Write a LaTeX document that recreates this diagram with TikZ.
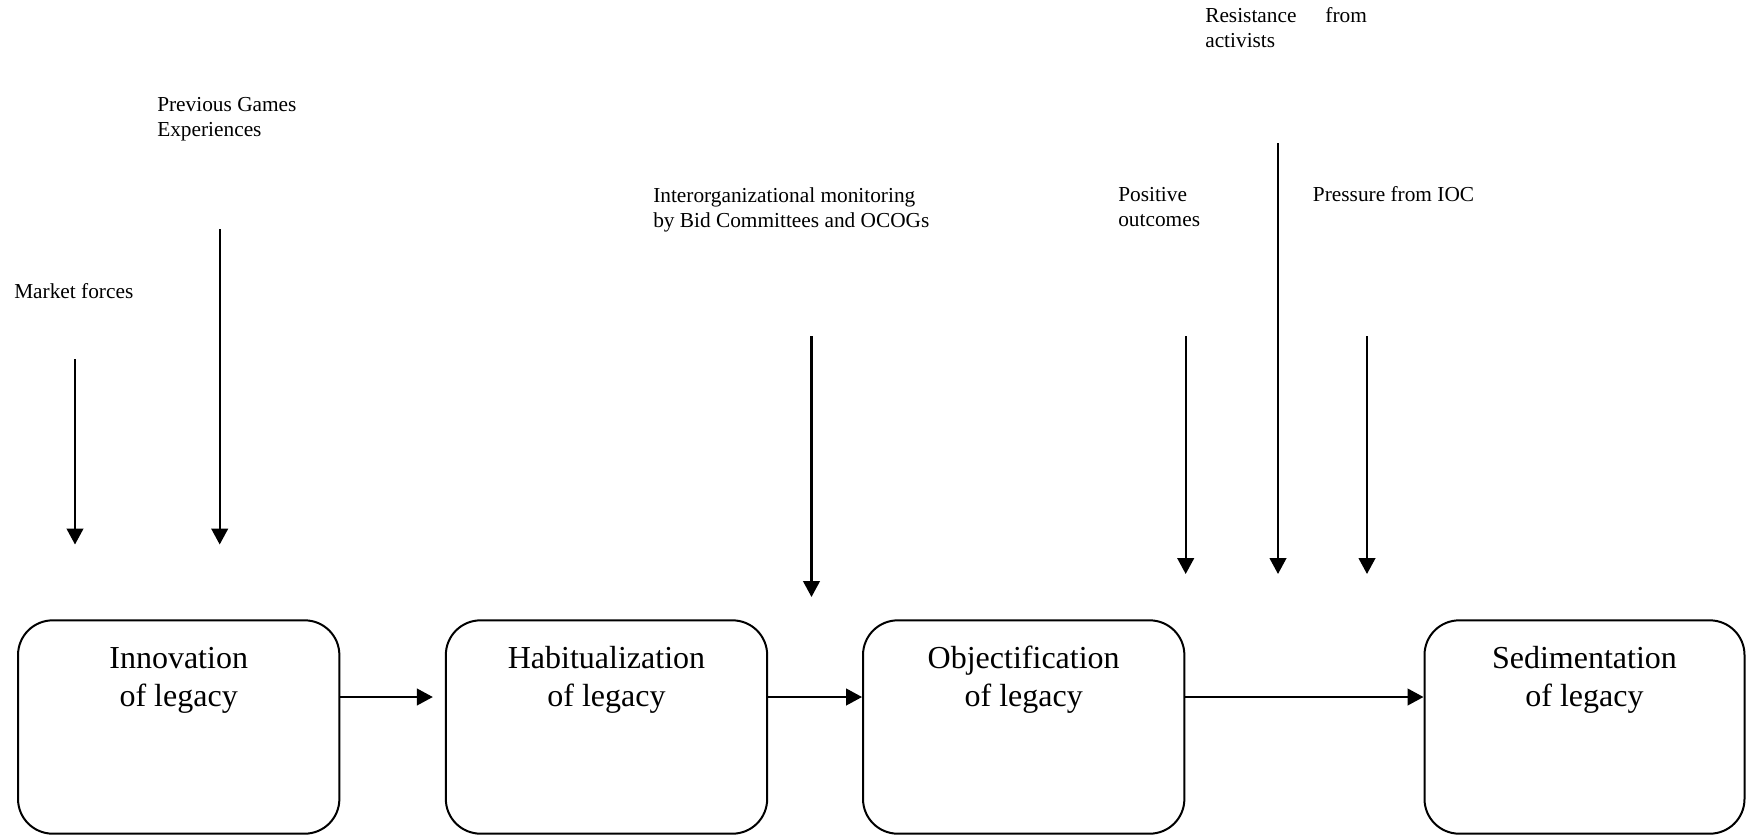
\documentclass[tikz,border=0pt]{standalone}
\usepackage{fontspec}
\setmainfont{Liberation Serif}
\usetikzlibrary{arrows.meta}

\tikzset{
  stagebox/.style={draw, line width=1.5pt, rounded corners=26pt,
    minimum width=241pt, minimum height=160pt, inner sep=0pt},
  stagetext/.style={anchor=north, inner sep=0pt, align=center,
    font=\fontsize{24}{28.5}\selectfont},
  forcetext/.style={anchor=north west, inner sep=0pt, align=left,
    font=\fontsize{16}{18.75}\selectfont},
  flow/.style={line width=1.7pt, -{Triangle[length=12pt,width=12.5pt]}},
}

\begin{document}
\begin{tikzpicture}[x=0.75pt, y=-0.75pt]
\useasboundingbox (0,0) rectangle (1746,836);

% process stages
\node[stagebox] (b1) at (178.7,727) {};
\node[stagebox] (b2) at (606.5,727) {};
\node[stagebox] (b3) at (1023.7,727) {};
\node[stagebox, minimum width=240pt] (b4) at (1584.5,727) {};

\node[stagetext] (t1) at (178.7,641.4) {\strut Innovation\\\strut of legacy};
\node[stagetext] (t2) at (606.5,641.4) {\strut Habitualization\\\strut of legacy};
\node[stagetext] (t3) at (1023.7,641.4) {\strut Objectification\\\strut of legacy};
\node[stagetext] (t4) at (1584.5,641.4) {\strut Sedimentation\\\strut of legacy};

% links between the stages
\coordinate (row) at (0,697);
\draw[flow] (b1.east |- row) -- ([xshift=-9pt]b2.west |- row);
\draw[flow] (b2.east |- row) -- (b3.west |- row);
\draw[flow] (b3.east |- row) -- (b4.west |- row);

% forces acting on the stages
\node[forcetext] (f1) at (14,280.5) {\strut Market forces};
\node[forcetext] (f2) at (157,93.5) {\strut Previous Games\\\strut Experiences};
\node[forcetext] (f3) at (653,185.2) {\strut Interorganizational monitoring\\\strut by Bid Committees and OCOGs};
\node[forcetext] (f4) at (1118,184.2) {\strut Positive\\\strut outcomes};
\node[forcetext] (f5) at (1205,5.2) {\strut Resistance\hspace{21.7pt}from\\\strut activists};
\node[forcetext] (f6) at (1312.7,184.2) {\strut Pressure from IOC};

\coordinate (a1s) at (75,359);     \coordinate (a1e) at (75,544.5);
\coordinate (a2s) at (219.7,229);  \coordinate (a2e) at (219.7,544.5);
\coordinate (a3s) at (811.5,336);  \coordinate (a3e) at (811.5,597);
\coordinate (a4s) at (1185.7,336); \coordinate (a4e) at (1185.7,574);
\coordinate (a5s) at (1278,143);   \coordinate (a5e) at (1278,574);
\coordinate (a6s) at (1367,336);   \coordinate (a6e) at (1367,574);

\draw[flow] (a1s) -- (a1e);
\draw[flow] (a2s) -- (a2e);
\draw[flow] (a3s) -- (a3e);
\draw[flow] (a4s) -- (a4e);
\draw[flow] (a5s) -- (a5e);
\draw[flow] (a6s) -- (a6e);
\end{tikzpicture}
\end{document}
